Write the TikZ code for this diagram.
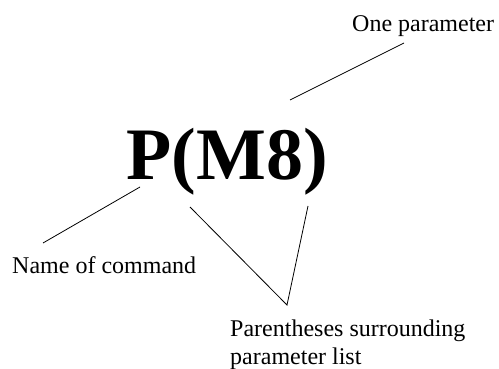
\documentclass[tikz,border=0pt]{standalone}
\usepackage{fontspec}
\setmainfont{Liberation Serif}
\usetikzlibrary{positioning, calc}

\begin{document}
\begin{tikzpicture}[x=1pt,y=-1pt,
  labeltext/.style={font=\fontsize{24}{28}\selectfont, inner sep=0pt},
  bigtext/.style={font=\fontsize{74}{80}\selectfont\bfseries, inner sep=0pt},
  pointer/.style={line width=0.8pt}]
  \useasboundingbox (0,0) rectangle (499,369);

  % Command with its parameter
  \node[bigtext, anchor=base] (cmd) at (227,180) {P(M8)};

  % Labels
  \node[labeltext, anchor=base west] (param) at (352,32) {One parameter};
  \node[labeltext, anchor=base west] (name) at (12,273) {Name of command};
  \node[labeltext, anchor=north west, align=left] (parens) at (230,320)
    {Parentheses surrounding\\parameter list};

  % Ends of the pointer lines
  \coordinate (param end) at (404,43);
  \coordinate (param tip) at (290,100);
  \coordinate (name end) at (43,243);
  \coordinate (name tip) at (140,187);
  \coordinate (meet) at (287,305);
  \coordinate (left tip) at (190,207);
  \coordinate (right tip) at (308,206);

  % Pointers
  \draw[pointer] (param end) -- (param tip);
  \draw[pointer] (name end) -- (name tip);
  \draw[pointer] (left tip) -- (meet) -- (right tip);
\end{tikzpicture}
\end{document}
